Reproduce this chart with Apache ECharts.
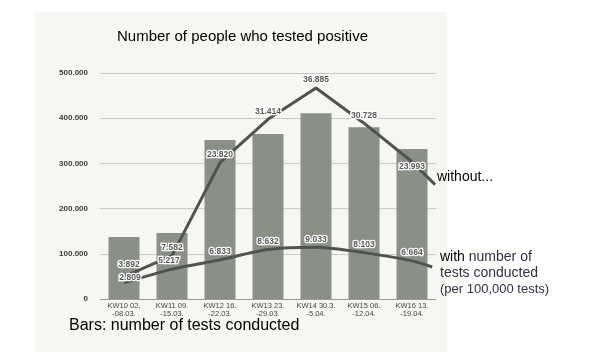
<!DOCTYPE html>
<html>
<head>
<meta charset="utf-8">
<script src="https://cdn.jsdelivr.net/npm/echarts@6/dist/echarts.min.js"></script>
<style>
  html, body { margin: 0; padding: 0; background: #fff; }
  #chart { width: 593px; height: 352px; }
</style>
</head>
<body>
<div id="chart"></div>
<script>
// calendar weeks
const weeks = ['KW10 02.\n-08.03.', 'KW11 09.\n-15.03.', 'KW12 16.\n-22.03.', 'KW13 23.\n-29.03.',
    'KW14 30.3.\n-5.04.', 'KW15 06.\n-12.04.', 'KW16 13.\n-19.04.'];
// bars: number of tests conducted
const tests = [137000, 146000, 352000, 365000, 411000, 380000, 332000];
// line: positive, without adjustment (last point = tail drawn past KW16)
const positive = [3892, 7582, 23820, 31414, 36885, 30728, 23993];
const positiveTail = 20000;
// line: positive per 100,000 tests
const perTests = [2809, 5217, 6833, 8632, 9033, 8103, 6664];
const perTestsTail = 5600;
const yTicks = [0, 100000, 200000, 300000, 400000, 500000];

const fmt = v => v === 0 ? '0' : v.toLocaleString('de-DE');

const labelBase = {
    show: true,
    position: 'top',
    fontSize: 8.5,
    fontWeight: 'bold',
    fontFamily: 'Liberation Sans, Arial',
    color: '#5b5b5b',
    textBorderColor: '#ffffff',
    textBorderWidth: 2.5,
    distance: 3,
    formatter: p => fmt(p.value[1])
};

function lineData(values, tail, tailX) {
    const data = values.map((v, i) => ({ value: [i, v] }));
    data.push({ value: [tailX, tail], label: { show: false } });
    return data;
}

// small label nudges [dx, dy]
const upperShift = [[5, -4], [0, 0], [0, 0], [0, 0], [0, 0], [0, 0], [0, 13]];
const lowerShift = [[6, 3], [-3, 0], [0, 0], [0, 0], [0, 0], [0, 0], [0, 0]];
const shiftBy = arr => p => {
    const s = arr[p.dataIndex] || [0, 0];
    return { dx: s[0], dy: s[1], hideOverlap: false };
};

const chart = echarts.init(document.getElementById('chart'));

const option = {
    backgroundColor: '#ffffff',
    animation: false,
    graphic: [
        { type: 'rect', z: -10, silent: true, shape: { x: 35, y: 12, width: 412, height: 340 },
          style: { fill: '#f6f6f2' } },
        { type: 'text', left: 117, top: 29, style: { text: 'Number of people who tested positive',
          font: '15px Liberation Sans, Arial', fill: '#000' } },
        { type: 'text', left: 437, top: 170, style: { text: 'without...',
          font: '14px Liberation Sans, Arial', fill: '#000' } },
        { type: 'text', left: 440, top: 249, style: {
          text: '{b|with} number of\ntests conducted\n{s|(per 100,000 tests)}',
          font: '14px Liberation Sans, Arial', fill: '#2e3344', lineHeight: 16,
          rich: {
              b: { font: '14px Liberation Sans, Arial', fill: '#000' },
              s: { font: '13px Liberation Sans, Arial', fill: '#2e3344' }
          } } },
        { type: 'text', left: 69, top: 318, style: { text: 'Bars: number of tests conducted',
          font: '16px Liberation Sans, Arial', fill: '#000' } }
    ],
    grid: { left: 100, right: 157, top: 73, bottom: 53 },
    xAxis: [{
        type: 'category',
        data: weeks,
        axisTick: { show: false },
        axisLine: { lineStyle: { color: '#9a9a94', width: 1 } },
        axisLabel: { interval: 0, fontSize: 7.5, color: '#444', lineHeight: 8, margin: 3,
            fontFamily: 'Liberation Sans, Arial' }
    }, {
        type: 'value',
        min: -0.5,
        max: 6.5,
        show: false
    }],
    yAxis: [{
        type: 'value',
        min: 0,
        max: 500000,
        interval: 100000,
        axisLine: { show: false },
        axisTick: { show: false },
        splitLine: { lineStyle: { color: '#c9c9c2', width: 1 } },
        axisLabel: { fontSize: 8, fontWeight: 'bold', color: '#3a3a3a', margin: 12,
            fontFamily: 'Liberation Sans, Arial',
            formatter: v => yTicks.includes(v) ? fmt(v) : '' }
    }, {
        type: 'value',
        min: 0,
        max: 39500,
        show: false
    }],
    series: [{
        type: 'bar',
        data: tests,
        barWidth: 31,
        itemStyle: { color: '#8a9086' },
        z: 1
    }, {
        type: 'line',
        xAxisIndex: 1,
        yAxisIndex: 1,
        data: lineData(positive, positiveTail, 6.48),
        symbol: 'circle',
        symbolSize: 1,
        showSymbol: true,
        itemStyle: { color: 'rgba(0,0,0,0)' },
        lineStyle: { color: '#4f544f', width: 3 },
        label: labelBase,
        labelLayout: shiftBy(upperShift),
        z: 3
    }, {
        type: 'line',
        xAxisIndex: 1,
        yAxisIndex: 1,
        data: lineData(perTests, perTestsTail, 6.42),
        symbol: 'circle',
        symbolSize: 1,
        showSymbol: true,
        itemStyle: { color: 'rgba(0,0,0,0)' },
        smooth: 0.25,
        lineStyle: { color: '#4f544f', width: 3 },
        label: labelBase,
        labelLayout: shiftBy(lowerShift),
        z: 3
    }]
};

chart.setOption(option);
</script>
</body>
</html>
